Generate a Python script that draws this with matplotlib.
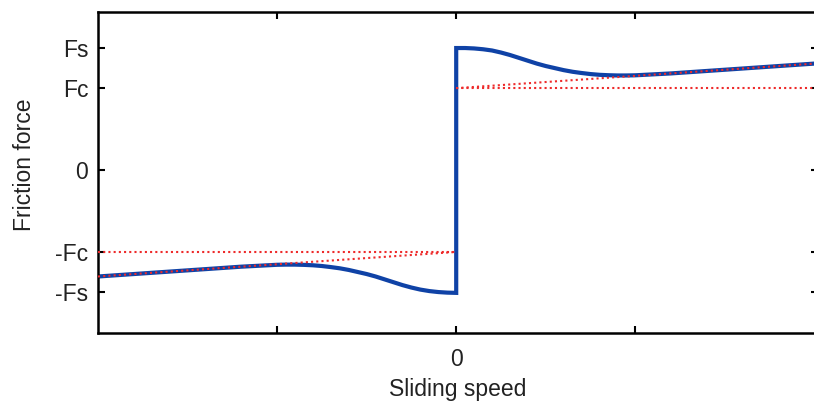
import numpy as np
import matplotlib
matplotlib.use("Agg")
import matplotlib.pyplot as plt

plt.rcParams["font.family"] = ["Liberation Sans", "DejaVu Sans"]

# friction levels (Coulomb = 1)
F_C = 1.0
F_S = 1.49

# Stribeck curve, negative sliding speeds
v_neg = [-2.0, -1.8, -1.6, -1.4, -1.2, -1.0, -0.95, -0.9, -0.85, -0.8, -0.75, -0.7, -0.65,
         -0.6, -0.55, -0.5, -0.45, -0.4, -0.35, -0.3, -0.25, -0.2, -0.15, -0.1, -0.05, 0.0]
f_neg = [-1.30, -1.27, -1.24, -1.21, -1.18, -1.157, -1.155, -1.155, -1.158, -1.163, -1.172,
         -1.185, -1.20, -1.22, -1.245, -1.27, -1.30, -1.335, -1.37, -1.405, -1.435, -1.46,
         -1.478, -1.49, -1.497, -1.50]

# Stribeck curve, positive sliding speeds
v_pos = [0.0, 0.05, 0.1, 0.15, 0.2, 0.25, 0.3, 0.35, 0.4, 0.45, 0.5, 0.55, 0.6, 0.65,
         0.7, 0.75, 0.8, 0.85, 0.9, 0.95, 1.0, 1.2, 1.4, 1.6, 1.8, 2.0]
f_pos = [1.49, 1.49, 1.485, 1.475, 1.46, 1.435, 1.405, 1.37, 1.335, 1.30, 1.27, 1.245,
         1.22, 1.20, 1.185, 1.172, 1.163, 1.158, 1.155, 1.155, 1.157, 1.18, 1.21, 1.24,
         1.27, 1.30]

# Coulomb + viscous reference lines
v_ref_neg = [-2.0, 0.0]
f_visc_neg = [-1.30, -1.0]
v_ref_pos = [0.0, 2.0]
f_visc_pos = [1.0, 1.30]

y_ticks = [-F_S, -F_C, 0, F_C, F_S]
y_ticklabels = ["-Fs", "-Fc", "0", "Fc", "Fs"]
x_ticks = [-1, 0, 1]
x_ticklabels = ["", "0", ""]

fig = plt.figure(figsize=(8.14, 4.13), dpi=100)
ax = fig.add_axes([98 / 814, 80 / 413, 720 / 814, 321 / 413])

ax.plot(v_neg + v_pos, f_neg + f_pos, color="#0f42a6", lw=3.0, zorder=2,
        solid_joinstyle="miter")

red = "#ee2a2a"
dots = dict(color=red, lw=1.5, linestyle=(0, (1, 1.5)), zorder=3)
ax.plot(v_ref_neg, [-F_C, -F_C], **dots)
ax.plot(v_ref_neg, f_visc_neg, **dots)
ax.plot(v_ref_pos, [F_C, F_C], **dots)
ax.plot(v_ref_pos, f_visc_pos, **dots)

ax.set_xlim(-2, 2.02)
ax.set_ylim(-1.99, 1.93)

ax.set_yticks(y_ticks)
ax.set_yticklabels(y_ticklabels)
ax.set_xticks(x_ticks)
ax.set_xticklabels(x_ticklabels)

text_color = "#222222"
ax.tick_params(direction="in", length=5, width=1.5, colors="black",
               labelcolor=text_color, labelsize=16.5,
               top=True, right=True)
ax.tick_params(axis="y", pad=7)
ax.tick_params(axis="x", pad=11)

for spine in ax.spines.values():
    spine.set_linewidth(1.8)

ax.set_xlabel("Sliding speed", fontsize=16.5, color=text_color)
ax.xaxis.set_label_coords(0.5, -0.14)
ax.set_ylabel("Friction force", fontsize=16.5, color=text_color, va="center")
ax.yaxis.set_label_coords(-0.102, 0.525)

fig.savefig("out.png", dpi=100, facecolor="white")
